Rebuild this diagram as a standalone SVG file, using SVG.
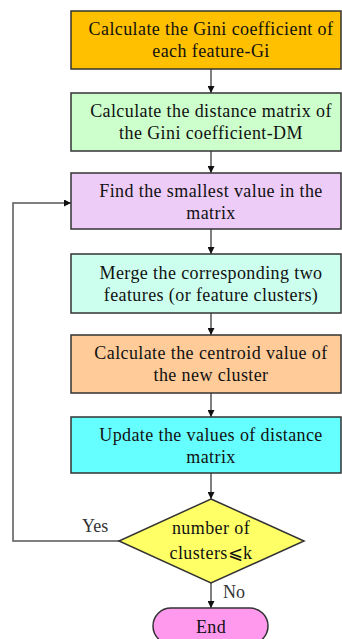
<svg xmlns="http://www.w3.org/2000/svg" width="342" height="639" viewBox="0 0 342 639">
<defs>
<style>
.box{stroke:#333;stroke-width:1.5}
.t{font-family:"Liberation Serif","Times New Roman",serif;font-size:18px;letter-spacing:0.4px;fill:#111;text-anchor:middle}
.lbl{font-family:"Liberation Serif","Times New Roman",serif;font-size:18px;fill:#333}
.ln{fill:none;stroke:#555;stroke-width:1.5}
</style>
<marker id="ah" viewBox="0 0 10 10" refX="10" refY="5" markerWidth="7" markerHeight="7" markerUnits="userSpaceOnUse" orient="auto">
<path d="M0,0 L10,5 L0,10 z" fill="#111"/>
</marker>
</defs>
<rect width="342" height="639" fill="#fff"/>
<g id="connectors">
<line class="ln" x1="211" y1="69" x2="211" y2="93" marker-end="url(#ah)"/>
<line class="ln" x1="211" y1="151" x2="211" y2="173" marker-end="url(#ah)"/>
<line class="ln" x1="211" y1="229" x2="211" y2="254" marker-end="url(#ah)"/>
<line class="ln" x1="211" y1="313" x2="211" y2="335" marker-end="url(#ah)"/>
<line class="ln" x1="211" y1="393" x2="211" y2="417" marker-end="url(#ah)"/>
<line class="ln" x1="211" y1="473" x2="211" y2="499" marker-end="url(#ah)"/>
<line class="ln" x1="211" y1="583" x2="211" y2="608" marker-end="url(#ah)"/>
<polyline class="ln" points="119,541 13,541 13,203 71,203" marker-end="url(#ah)"/>
<text class="lbl" x="82" y="532">Yes</text>
<text class="lbl" x="223" y="598">No</text>
</g>
<g id="n1">
<rect class="box" x="71" y="11" width="270" height="58" fill="#FFC000"/>
<text class="t" x="211" y="35">Calculate the Gini coefficient of</text>
<text class="t" x="211" y="57">each feature-Gi</text>
</g>
<g id="n2">
<rect class="box" x="71" y="93" width="270" height="58" fill="#CCFFCC"/>
<text class="t" x="211" y="117">Calculate the distance matrix of</text>
<text class="t" x="211" y="139">the Gini coefficient-DM</text>
</g>
<g id="n3">
<rect class="box" x="71" y="173" width="270" height="56" fill="#EECCF8"/>
<text class="t" x="211" y="197">Find the smallest value in the</text>
<text class="t" x="211" y="219">matrix</text>
</g>
<g id="n4">
<rect class="box" x="71" y="254" width="270" height="59" fill="#CCFFEE"/>
<text class="t" x="211" y="279">Merge the corresponding two</text>
<text class="t" x="211" y="301">features (or feature clusters)</text>
</g>
<g id="n5">
<rect class="box" x="71" y="335" width="270" height="58" fill="#FFCC99"/>
<text class="t" x="211" y="359">Calculate the centroid value of</text>
<text class="t" x="211" y="381">the new cluster</text>
</g>
<g id="n6">
<rect class="box" x="71" y="417" width="270" height="56" fill="#66FFFF"/>
<text class="t" x="211" y="441">Update the values of distance</text>
<text class="t" x="211" y="463">matrix</text>
</g>
<g id="n7">
<polygon class="box" points="211,499 304,541 211,583 119,541" fill="#FFFF66"/>
<text class="t" x="211" y="534">number of</text>
<text class="t" x="211" y="559">clusters⩽k</text>
</g>
<g id="n8">
<rect class="box" x="153" y="608" width="115" height="36" rx="18" fill="#FF99EE"/>
<text class="t" x="211" y="633">End</text>
</g>
</svg>
